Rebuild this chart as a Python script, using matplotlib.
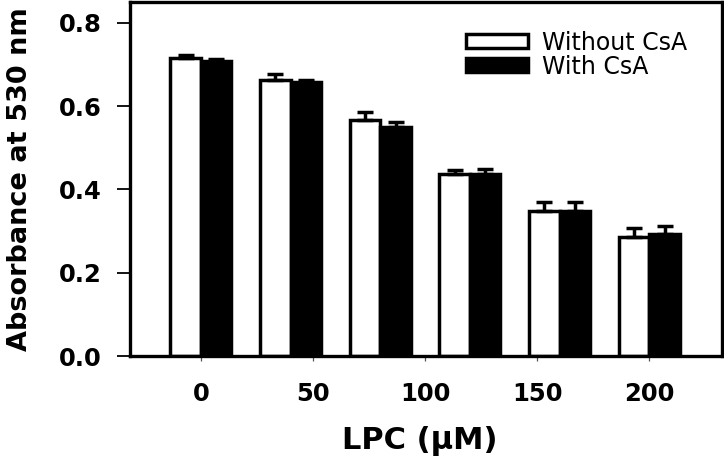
import numpy as np
import matplotlib.pyplot as plt

# LPC tick labels (only five labels under six bar pairs, as in the original)
lpc_labels = ['0', '50', '100', '150', '200']

without_csa = [0.716, 0.662, 0.566, 0.438, 0.348, 0.286]
without_err = [0.008, 0.016, 0.020, 0.008, 0.021, 0.022]
with_csa = [0.708, 0.657, 0.549, 0.437, 0.349, 0.294]
with_err = [0.005, 0.005, 0.013, 0.011, 0.022, 0.018]

y_ticks = [0.0, 0.2, 0.4, 0.6, 0.8]

fig = plt.figure(figsize=(7.24, 4.62), dpi=100)
ax = fig.add_axes([0.1796, 0.2294, 0.8177, 0.7662])

x = np.arange(len(without_csa))
w = 0.34
lw = 2.5

ax.bar(x - w / 2, without_csa, w, color='white', edgecolor='black',
       linewidth=lw, label='Without CsA', zorder=2)
ax.bar(x + w / 2, with_csa, w, color='black', edgecolor='black',
       linewidth=lw, label='With CsA', zorder=2)

zeros = np.zeros(len(x))
ax.errorbar(x - w / 2, without_csa, yerr=[zeros, without_err], fmt='none',
            ecolor='black', elinewidth=lw, capsize=5.6, capthick=lw, zorder=3)
ax.errorbar(x + w / 2, with_csa, yerr=[zeros, with_err], fmt='none',
            ecolor='black', elinewidth=lw, capsize=5.6, capthick=lw, zorder=3)

ax.set_xlim(-0.79, 5.81)
ax.set_ylim(0, 0.85)

ax.set_xticks(np.linspace(0, len(x) - 1, len(lpc_labels)))
ax.set_xticklabels(lpc_labels, fontsize=17.5, fontweight='bold')
ax.set_yticks(y_ticks)
ax.set_yticklabels(['%.1f' % v for v in y_ticks], fontsize=17.5, fontweight='bold')

ax.tick_params(axis='y', direction='out', length=9.4, width=1.3, pad=11)
ax.tick_params(axis='x', direction='out', length=3.6, width=0.9, pad=15,
               color='#555555')

for s in ax.spines.values():
    s.set_linewidth(2.4)

ax.set_ylabel('Absorbance at 530 nm', fontsize=19.5, fontweight='bold', va='center')
ax.yaxis.set_label_coords(-0.186, 0.5)
ax.set_xlabel('LPC (\u03bcM)', fontsize=22, fontweight='bold', va='center')
ax.xaxis.set_label_coords(0.49, -0.24)

ax.legend(loc='upper left', bbox_to_anchor=(465.7 / 724, 1 - 30.5 / 462),
          bbox_transform=fig.transFigure, frameon=False, fontsize=17,
          handlelength=2.63, handleheight=0.5, handletextpad=0.6,
          labelspacing=0.0, borderpad=0, borderaxespad=0)

fig.savefig('out.png', dpi=100)
